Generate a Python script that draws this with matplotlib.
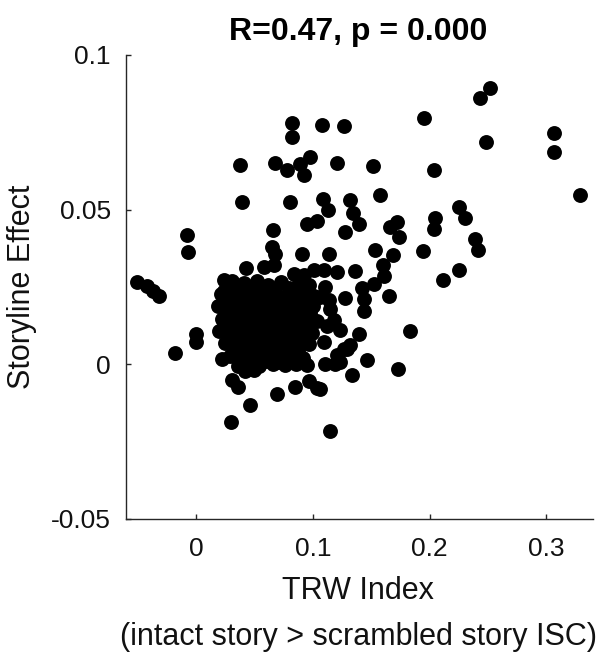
import matplotlib
matplotlib.use("Agg")
import matplotlib.pyplot as plt

plt.rcParams['font.family'] = ['Liberation Sans', 'DejaVu Sans']

# TRW Index (x) and Storyline Effect (y) values
trw_index = [
    0.0822, 0.0822, 0.1079, 0.1264, 0.0373, 0.0679, 0.0779, 0.0893, 0.0979, 0.0921,
    0.1210, 0.0394, 0.0801, 0.1086, 0.1133, 0.1321, 0.1342, 0.1392, 0.1278, 0.0950,
    0.1036, -0.0074, -0.0072, 0.0658, 0.2520, 0.2434, 0.1949, 0.3062, 0.3062, 0.2485,
    0.1518, 0.2034, 0.1578, 0.3290, 0.1664, 0.1721, 0.1735, 0.2049, 0.2034, 0.2248,
    0.2306, 0.2391, 0.2411, 0.1535, 0.1685, 0.1599, 0.1606, 0.1946, 0.1364, 0.1210,
    0.2113, 0.2248, 0.1421, 0.1521, 0.1649, 0.1435, 0.1278, 0.1441, 0.1835, 0.1398,
    0.1293, 0.1321, 0.1235, 0.1464, 0.1730, 0.1336, 0.1135, 0.1107, 0.1064, 0.1135,
    0.1150, 0.1092, 0.1207, 0.1264, 0.1107, 0.1193, 0.1064, 0.1144, -0.0505, -0.0417,
    -0.0366, -0.0314, 0.0000, -0.0004, -0.0177, 0.0651, 0.0679, 0.0908, 0.0431, 0.0579,
    0.0664, 0.0836, 0.0921, 0.1007, 0.0236, 0.0236, 0.0223, 0.0308, 0.0358, 0.0465,
    0.0301, 0.0693, 0.0850, 0.0970, 0.1036, 0.1092, 0.1178, 0.1235, 0.1120,
    # dense cluster
    0.031, 0.041, 0.052, 0.062, 0.073, 0.088, 0.097,
    0.021, 0.030, 0.039, 0.048, 0.057, 0.066, 0.075, 0.084, 0.093, 0.101,
    0.019, 0.028, 0.037, 0.046, 0.055, 0.064, 0.073, 0.082, 0.091, 0.100,
    0.022, 0.031, 0.040, 0.049, 0.058, 0.067, 0.076, 0.085, 0.094, 0.104,
    0.020, 0.028, 0.037, 0.046, 0.055, 0.064, 0.073, 0.082, 0.091, 0.099,
    0.025, 0.034, 0.043, 0.052, 0.061, 0.070, 0.079, 0.088, 0.097,
    0.029, 0.038, 0.047, 0.056, 0.065, 0.074, 0.083, 0.092,
    0.036, 0.045, 0.054, 0.066, 0.076, 0.086, 0.095,
    0.042, 0.050,
    0.035, 0.046, 0.057, 0.068, 0.080, 0.092,
    0.024, 0.033, 0.042, 0.051, 0.060, 0.069, 0.078, 0.087, 0.096,
    0.026, 0.035, 0.044, 0.053, 0.062, 0.071, 0.080, 0.089, 0.098,
    0.024, 0.033, 0.042, 0.051, 0.060, 0.069, 0.078, 0.087, 0.096,
    0.029, 0.038, 0.047, 0.056, 0.065, 0.074, 0.083, 0.092,
    0.033, 0.042, 0.051, 0.060, 0.069, 0.078, 0.087,
    0.041, 0.050, 0.060, 0.070, 0.080, 0.090,
]

storyline_effect = [
    0.0779, 0.0736, 0.0773, 0.0769, 0.0644, 0.0650, 0.0628, 0.0647, 0.0671, 0.0612,
    0.0650, 0.0525, 0.0524, 0.0535, 0.0498, 0.0531, 0.0488, 0.0455, 0.0427, 0.0453,
    0.0463, 0.0417, 0.0363, 0.0434, 0.0892, 0.0860, 0.0797, 0.0747, 0.0687, 0.0719,
    0.0642, 0.0628, 0.0549, 0.0547, 0.0443, 0.0461, 0.0413, 0.0472, 0.0439, 0.0509,
    0.0472, 0.0405, 0.0369, 0.0371, 0.0353, 0.0320, 0.0285, 0.0367, 0.0303, 0.0299,
    0.0272, 0.0304, 0.0248, 0.0261, 0.0220, 0.0210, 0.0213, 0.0172, 0.0107, 0.0099,
    0.0051, 0.0061, 0.0007, 0.0013, -0.0014, -0.0036, 0.0358, 0.0250, 0.0218, 0.0207,
    0.0180, 0.0072, 0.0029, 0.0051, 0.0002, 0.0002, -0.0079, -0.0217, 0.0266, 0.0252,
    0.0236, 0.0220, 0.0099, 0.0072, 0.0037, 0.0380, 0.0358, 0.0358, 0.0310, 0.0315,
    0.0320, 0.0293, 0.0288, 0.0304, 0.0272, 0.0236, 0.0018, -0.0052, -0.0073, -0.0133,
    -0.0187, -0.0095, -0.0074, -0.0055, -0.0076, 0.0304, 0.0142, 0.0110, 0.0125,
    # dense cluster
    0.0268, 0.0262, 0.0270, 0.0258, 0.0265, 0.0262, 0.0255,
    0.0228, 0.0221, 0.0232, 0.0219, 0.0226, 0.0230, 0.0218, 0.0224, 0.0229, 0.0220,
    0.0188, 0.0181, 0.0190, 0.0183, 0.0186, 0.0179, 0.0191, 0.0184, 0.0180, 0.0187,
    0.0148, 0.0141, 0.0150, 0.0143, 0.0139, 0.0147, 0.0142, 0.0150, 0.0144, 0.0139,
    0.0108, 0.0101, 0.0109, 0.0102, 0.0106, 0.0099, 0.0110, 0.0103, 0.0107, 0.0100,
    0.0068, 0.0061, 0.0070, 0.0063, 0.0067, 0.0060, 0.0069, 0.0062, 0.0066,
    0.0028, 0.0021, 0.0030, 0.0023, 0.0027, 0.0020, 0.0029, 0.0022,
    -0.0004, 0.0000, -0.0006, 0.0001, -0.0003, 0.0002, -0.0002,
    -0.0021, -0.0017,
    0.0247, 0.0243, 0.0249, 0.0241, 0.0246, 0.0244,
    0.0206, 0.0203, 0.0208, 0.0201, 0.0207, 0.0204, 0.0202, 0.0209, 0.0205,
    0.0166, 0.0163, 0.0168, 0.0161, 0.0167, 0.0164, 0.0162, 0.0169, 0.0165,
    0.0126, 0.0123, 0.0128, 0.0121, 0.0127, 0.0124, 0.0122, 0.0129, 0.0125,
    0.0086, 0.0083, 0.0088, 0.0081, 0.0087, 0.0084, 0.0082, 0.0089,
    0.0046, 0.0043, 0.0048, 0.0041, 0.0047, 0.0044, 0.0042,
    0.0011, 0.0008, 0.0012, 0.0009, 0.0010, 0.0013,
]

x_ticks = [0, 0.1, 0.2, 0.3]
x_tick_labels = ["0", "0.1", "0.2", "0.3"]
y_ticks = [-0.05, 0, 0.05, 0.1]
y_tick_labels = ["-0.05", "0", "0.05", "0.1"]

title_text = "R=0.47, p = 0.000"
xlabel_line1 = "TRW Index"
xlabel_line2 = "(intact story > scrambled story ISC)"
ylabel_text = "Storyline Effect"

W, H = 611, 656
fig = plt.figure(figsize=(W / 100, H / 100), dpi=100)
ax = fig.add_axes([126 / W, 1 - 519 / H, (593 - 126) / W, (519 - 55) / H])

ax.scatter(trw_index, storyline_effect, s=115, c="black", linewidths=0, zorder=3)

ax.set_xlim(-0.06, 0.34)
ax.set_ylim(-0.05, 0.1)
ax.set_xticks(x_ticks)
ax.set_xticklabels(x_tick_labels)
ax.set_yticks(y_ticks)
ax.set_yticklabels(y_tick_labels)

for side in ("top", "right"):
    ax.spines[side].set_visible(False)
for side in ("left", "bottom"):
    ax.spines[side].set_linewidth(1.0)
    ax.spines[side].set_color("#262626")

ax.tick_params(direction="in", length=3.5, width=1.0, color="#262626",
               labelsize=19, labelcolor="#111111")
ax.tick_params(axis="x", pad=13)
ax.tick_params(axis="y", pad=11)

fs = 22
fig.text(358 / W, 1 - 32 / H, title_text, ha="center", va="center",
         fontsize=23, fontweight="bold", color="black")
fig.text(358 / W, 1 - 591 / H, xlabel_line1, ha="center", va="center",
         fontsize=fs, color="#111111")
fig.text(358 / W, 1 - 637 / H, xlabel_line2, ha="center", va="center",
         fontsize=fs, color="#111111")
fig.text(22 / W, 1 - 287 / H, ylabel_text, ha="center", va="center",
         rotation=90, fontsize=fs, color="#111111")

fig.savefig("out.png", dpi=100)
